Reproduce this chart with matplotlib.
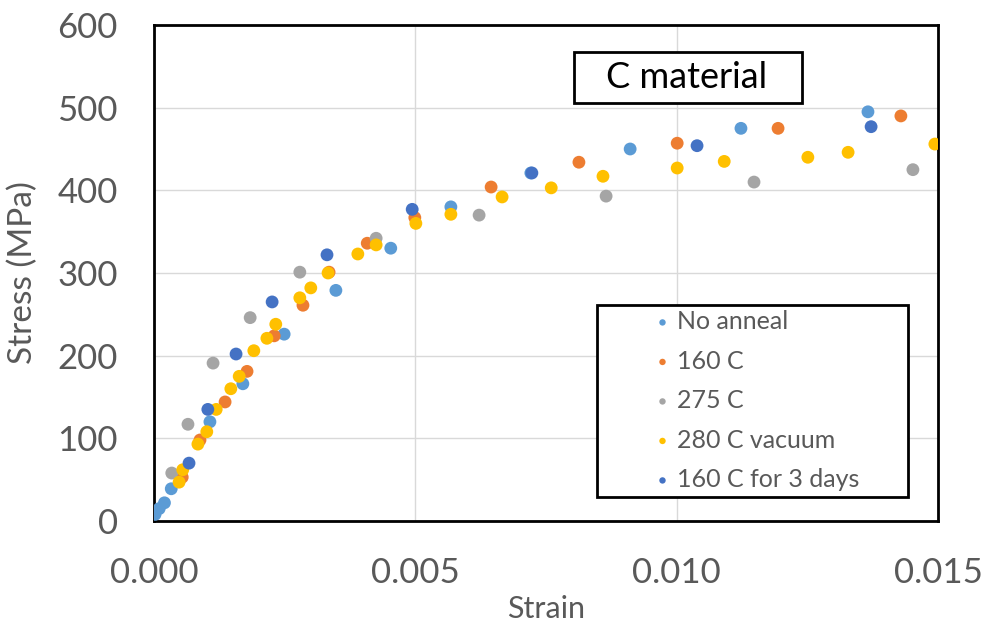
import matplotlib
matplotlib.use("Agg")
import matplotlib.pyplot as plt
from matplotlib.patches import Rectangle

plt.rcParams['font.family'] = ['Lato', 'DejaVu Sans']

# ---- data (strain, stress MPa) ----
no_anneal_x = [0.00002, 0.0001, 0.0002, 0.00033, 0.00107, 0.00170, 0.00249, 0.00348, 0.00453, 0.00568, 0.00721, 0.00911, 0.01123, 0.01366]
no_anneal_y = [8, 15, 22, 39, 120, 166, 226, 279, 330, 380, 421, 450, 475, 495]

c160_x = [0.00054, 0.00088, 0.00136, 0.00178, 0.00230, 0.00285, 0.00335, 0.00408, 0.00499, 0.00645, 0.00813, 0.01001, 0.01194, 0.01429]
c160_y = [53, 98, 144, 181, 224, 261, 301, 336, 367, 404, 434, 457, 475, 490]

c275_x = [0.00034, 0.00065, 0.00113, 0.00184, 0.00279, 0.00425, 0.00622, 0.00865, 0.01148, 0.01452]
c275_y = [58, 117, 191, 246, 301, 342, 370, 393, 410, 425]

c280v_x = [0.00048, 0.00055, 0.00084, 0.00101, 0.00119, 0.00147, 0.00163, 0.00191, 0.00216, 0.00233, 0.00279, 0.00300, 0.00333, 0.00390, 0.00425, 0.00501, 0.00568, 0.00666, 0.00760, 0.00859, 0.01001, 0.01091, 0.01251, 0.01328, 0.01494]
c280v_y = [47, 62, 93, 108, 135, 160, 175, 206, 221, 238, 270, 282, 300, 323, 334, 360, 371, 392, 403, 417, 427, 435, 440, 446, 456]

c160d3_x = [0.00067, 0.00103, 0.00157, 0.00226, 0.00331, 0.00494, 0.00723, 0.01039, 0.01372]
c160d3_y = [70, 135, 202, 265, 322, 377, 421, 454, 477]

series = [
    ("No anneal", no_anneal_x, no_anneal_y, "#5B9BD5"),
    ("160 C", c160_x, c160_y, "#ED7D31"),
    ("275 C", c275_x, c275_y, "#A5A5A5"),
    ("280 C vacuum", c280v_x, c280v_y, "#FFC000"),
    ("160 C for 3 days", c160d3_x, c160d3_y, "#4472C4"),
]

W, H = 987, 627
fig = plt.figure(figsize=(W / 100, H / 100), dpi=100)
ax = fig.add_axes([154 / W, (H - 521) / H, (938 - 154) / W, (521 - 25) / H])

handles = []
for name, xs, ys, col in series:
    h = ax.scatter(xs, ys, s=85, color=col, edgecolors='none', label=name, zorder=3)
    handles.append(h)

ax.set_xlim(0, 0.015)
ax.set_ylim(0, 600)
ax.set_xticks([0.000, 0.005, 0.010, 0.015])
ax.set_xticklabels(["0.000", "0.005", "0.010", "0.015"])
ax.set_yticks([0, 100, 200, 300, 400, 500, 600])
ax.grid(True, color="#D9D9D9", linewidth=1, zorder=0)
ax.set_axisbelow(True)
for sp in ax.spines.values():
    sp.set_color("black")
    sp.set_linewidth(2)
ax.tick_params(length=0, labelsize=25, labelcolor="#595959")
ax.tick_params(axis='x', pad=26)
ax.tick_params(axis='y', pad=26)
ax.set_xlabel("Strain", fontsize=22, color="#595959", labelpad=4)
ax.set_ylabel("Stress (MPa)", fontsize=24, color="#595959", labelpad=14)

# title box
title_box = Rectangle((574 / W, 1 - 103 / H), (802 - 574) / W, (103 - 52) / H,
                      transform=fig.transFigure, facecolor="white", edgecolor="black",
                      linewidth=2, zorder=4)
fig.patches.append(title_box)
fig.text(687 / W, 1 - 78 / H, "C material", fontsize=26, color="black",
         ha="center", va="center", zorder=5)

# legend box
rect = Rectangle((597 / W, 1 - 497 / H), (908 - 597) / W, (497 - 305) / H,
                 transform=fig.transFigure, facecolor="white", edgecolor="black",
                 linewidth=2, zorder=4)
fig.patches.append(rect)
leg = fig.legend(handles=handles, loc="upper left", bbox_to_anchor=(650 / W, 1 - 310 / H),
                 frameon=False, fontsize=18, markerscale=0.5, handletextpad=0.1,
                 labelspacing=0.66, handlelength=1.0, borderaxespad=0, borderpad=0)
for t in leg.get_texts():
    t.set_color("#595959")
leg.set_zorder(5)

fig.savefig("out.png", dpi=100)
